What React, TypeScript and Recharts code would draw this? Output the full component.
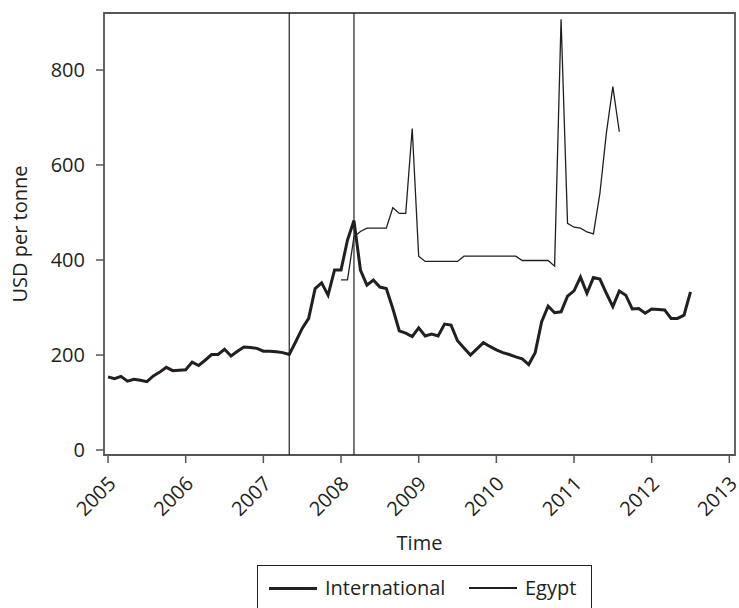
import React from "react";
import { LineChart, Line, XAxis, YAxis, ReferenceLine, ReferenceArea, Label } from "recharts";

// monthly prices, Jan 2005 .. Jul 2012
const startYear = 2005;
const intlPrices = [
  154, 150, 155, 145, 149, 147, 144, 156, 164, 174, 167, 168,
  169, 185, 178, 189, 201, 201, 212, 198, 208, 217, 216, 214,
  208, 208, 207, 205, 201, 228, 256, 277, 340, 352, 326, 379,
  379, 442, 483, 379, 347, 358, 343, 340, 298, 251, 246, 239,
  257, 240, 244, 240, 265, 263, 230, 215, 200, 213, 226, 218,
  211, 205, 201, 196, 192, 180, 205, 270, 303, 289, 291, 324,
  335, 364, 330, 363, 360, 330, 302, 335, 326, 297, 298, 288,
  297, 296, 295, 277, 277, 284, 333,
];

// Egypt, Jan 2008 .. Aug 2011
const egyptStartIndex = 36;
const egyptPrices = [
  358, 358, 449, 460, 467, 467, 467, 467, 510, 498, 498, 677,
  408, 397, 397, 397, 397, 397, 397, 408, 408, 408, 408, 408,
  408, 408, 408, 408, 399, 399, 399, 399, 399, 387, 907, 477,
  469, 467, 459, 455, 540, 667, 765, 670,
];

const xTicks = [2005, 2006, 2007, 2008, 2009, 2010, 2011, 2012, 2013];
const yTicks = [0, 200, 400, 600, 800];
const eventDates = [2007 + 4 / 12, 2008 + 2 / 12];

const X_DOMAIN: [number, number] = [2004.948, 2013.073];
const Y_DOMAIN: [number, number] = [-10.5, 920];

const chartData = intlPrices.map((v, i) => {
  const j = i - egyptStartIndex;
  return {
    t: startYear + i / 12,
    international: v,
    egypt: j >= 0 && j < egyptPrices.length ? egyptPrices[j] : null,
  };
});

const FONT = "'Open Sans', 'Noto Sans', sans-serif";
const INK = "#231f20";
const AXIS = "#555";

function YearTick(props: any) {
  const { x, y, payload } = props;
  const ax = x + 9;
  const ay = y + 22;
  return (
    <text
      x={ax}
      y={ay}
      textAnchor="end"
      transform={`rotate(-45, ${ax}, ${ay})`}
      fill={INK}
      fontSize={20}
      fontFamily={FONT}
    >
      {payload.value}
    </text>
  );
}

function YTitle(props: any) {
  const vb = props.viewBox || { y: 13, height: 442 };
  const cx = 19;
  const cy = vb.y + vb.height / 2;
  return (
    <text
      x={cx}
      y={cy}
      textAnchor="middle"
      dominantBaseline="central"
      transform={`rotate(-90, ${cx}, ${cy})`}
      fill={INK}
      fontSize={20}
      fontFamily={FONT}
    >
      USD per tonne
    </text>
  );
}

function XTitle(props: any) {
  const vb = props.viewBox || { x: 104, width: 631 };
  return (
    <text
      x={vb.x + vb.width / 2}
      y={542}
      textAnchor="middle"
      dominantBaseline="central"
      fill={INK}
      fontSize={20}
      fontFamily={FONT}
    >
      Time
    </text>
  );
}

function LegendBox() {
  const item = (label: string, width: number, left: number) => (
    <div style={{ position: "absolute", left, top: 10, display: "flex", alignItems: "center", height: 24 }}>
      <div style={{ width: 48, height: width, background: INK }} />
      <span style={{ marginLeft: 8, fontSize: 20, fontFamily: FONT, color: INK, lineHeight: "24px" }}>{label}</span>
    </div>
  );
  return (
    <div
      style={{
        position: "absolute",
        left: 257,
        top: 565,
        width: 335,
        height: 60,
        border: `1.5px solid ${INK}`,
        boxSizing: "border-box",
        background: "#fff",
      }}
    >
      {item("International", 3, 11)}
      {item("Egypt", 1.3, 211)}
    </div>
  );
}

export default function App() {
  return (
    <div style={{ position: "absolute", left: 0, top: 0, width: 739, height: 608, overflow: "hidden", background: "#fff" }}>
      <LineChart
        width={739}
        height={608}
        data={chartData}
        margin={{ top: 13, right: 4, left: 0, bottom: 53 }}
      >
        <XAxis
          dataKey="t"
          type="number"
          domain={X_DOMAIN}
          ticks={xTicks}
          allowDataOverflow
          height={100}
          axisLine={false}
          tickLine={{ stroke: AXIS, strokeWidth: 1.5 }}
          tickSize={8}
          tickMargin={0}
          tick={<YearTick />}
          interval={0}
        >
          <Label content={<XTitle />} />
        </XAxis>
        <YAxis
          type="number"
          domain={Y_DOMAIN}
          ticks={yTicks}
          allowDataOverflow
          width={104}
          axisLine={false}
          tickLine={{ stroke: AXIS, strokeWidth: 1.5 }}
          tickSize={8}
          tickMargin={11}
          tick={{ fill: INK, fontSize: 20, fontFamily: FONT }}
          interval={0}
        >
          <Label content={<YTitle />} />
        </YAxis>
        <ReferenceArea
          x1={X_DOMAIN[0]}
          x2={X_DOMAIN[1]}
          y1={Y_DOMAIN[0]}
          y2={Y_DOMAIN[1]}
          fill="none"
          stroke={AXIS}
          strokeWidth={1.8}
          fillOpacity={0}
        />
        {eventDates.map((d) => (
          <ReferenceLine key={d} x={d} stroke={INK} strokeWidth={1.2} />
        ))}
        <Line
          type="linear"
          dataKey="egypt"
          stroke={INK}
          strokeWidth={1.3}
          dot={false}
          isAnimationActive={false}
        />
        <Line
          type="linear"
          dataKey="international"
          stroke={INK}
          strokeWidth={3}
          dot={false}
          isAnimationActive={false}
        />
      </LineChart>
      <LegendBox />
    </div>
  );
}
